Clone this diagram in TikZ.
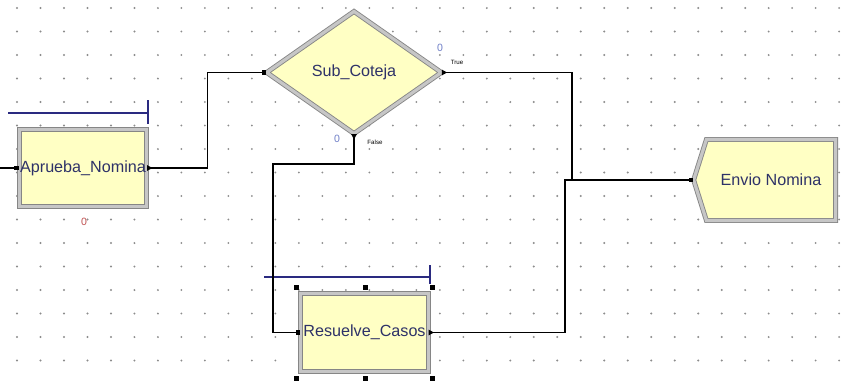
\documentclass[tikz,border=0pt]{standalone}
\usepackage{fontspec}
\setmainfont{Liberation Sans}
\usepackage{xcolor}
\usepackage{tikz}
\usetikzlibrary{shapes.geometric, shapes.symbols, arrows.meta}

\definecolor{boxfill}{HTML}{FFFFC4}
\definecolor{labelblue}{HTML}{2E3268}
\definecolor{queueblue}{HTML}{2A2A80}
\definecolor{countblue}{HTML}{7080C8}
\definecolor{countred}{HTML}{C05050}

\begin{document}
\begin{tikzpicture}[x=0.02cm,y=-0.02cm,
    module/.style={draw=gray!95, double=gray!45, line width=0.5pt, double distance=1.8pt,
                   fill=boxfill, text=labelblue, font=\fontsize{9.2}{11}\selectfont, inner sep=0pt},
    proc/.style={module, rectangle, minimum width=2.55cm, minimum height=1.55cm},
    choice/.style={module, diamond, minimum width=3.5cm, minimum height=2.45cm},
    sink/.style={module, signal, signal to=west, signal from=nowhere, signal pointer angle=145,
                 minimum width=2.84cm, minimum height=1.62cm},
    link/.style={draw=black, line width=0.7pt,
                 {Triangle[reversed,length=3pt,width=3pt]}-{Square[length=2.5pt,width=2.5pt]}},
    queue/.style={draw=queueblue, line width=0.7pt},
    count/.style={font=\fontsize{6}{6}\selectfont, text=countblue, inner sep=0pt},
    branch/.style={font=\fontsize{3.5}{4}\selectfont, inner sep=0pt}]

  \useasboundingbox[fill=white] (0,0) rectangle (844,383);

  % dot grid
  \foreach \i in {0,...,35}
    \foreach \j in {0,...,15}
      \fill[gray!90] (17+23.49*\i,8+23.5*\j) circle (0.6pt);

  % modules
  \node[proc] (ap) at (83,168) {Aprueba\_Nomina};
  \node[choice] (sub) at (354,72.5) {Sub\_Coteja};
  \node[proc] (res) at (364.5,332.5) {Resuelve\_Casos};
  \node[sink] (envio) at (771,180) {Envio Nomina};

  % queues
  \draw[queue] (8,113) -- (148,113) (148,100) -- (148,124);
  \draw[queue] (264,277) -- (430,277) (430,265) -- (430,284);

  % counters and branch labels
  \node[count, text=countred] (apcount) at (84,222) {0};
  \node[count] (truecount) at (440,48) {0};
  \node[branch] (truelbl) at (457,62) {True};
  \node[count] (falsecount) at (337,139) {0};
  \node[branch] (falselbl) at (375,142) {False};

  % selection handles
  \foreach \hx in {296,365,432}
    \foreach \hy in {287,378}
      \fill (\hx-2.5,\hy-2.5) rectangle ++(5,5);

  % connectors
  \coordinate (entry) at (0,168);
  \coordinate (bendA) at (207.5,120);
  \coordinate (bendF) at (273,164);
  \coordinate (bendT) at (572,180);
  \coordinate (bendR) at (565,250);

  \draw[draw=black, line width=0.7pt, -{Square[length=2.5pt,width=2.5pt]}] (entry) -- (ap.west);
  \draw[link] (ap.east) -| (bendA) |- (sub.west);
  \draw[link] (sub.south) |- (bendF) |- (res.west);
  \draw[link] (sub.east) -| (bendT) -- (envio.west);
  \draw[link] (res.east) -| (bendR) |- (envio.west);
\end{tikzpicture}
\end{document}
